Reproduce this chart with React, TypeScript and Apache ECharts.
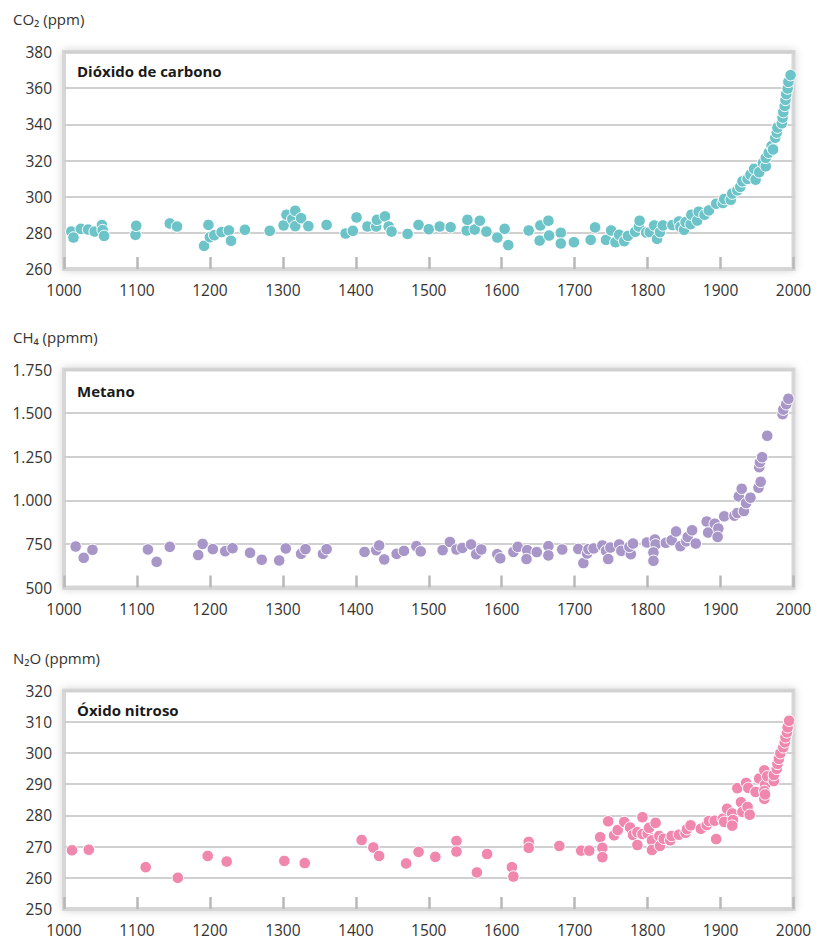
import React, { useEffect, useRef } from "react";
import * as echarts from "echarts";

// ---- Data ----
const co2Years = [
  1010, 1013, 1023, 1033, 1042, 1052, 1053, 1055, 1098, 1099, 1145, 1155, 1192, 1198, 1200, 1206,
  1216, 1226, 1229, 1248, 1282, 1301, 1305, 1313, 1317, 1317, 1325, 1335, 1360, 1386, 1396, 1401,
  1416, 1428, 1429, 1440, 1445, 1449, 1471, 1486, 1500, 1515, 1530, 1552, 1553, 1563, 1570, 1579,
  1594, 1604, 1609, 1637, 1652, 1653, 1664, 1665, 1681, 1681, 1699, 1722, 1728, 1743, 1750, 1756,
  1761, 1768, 1773, 1783, 1788, 1789, 1798, 1803, 1809, 1813, 1817, 1821, 1834, 1843, 1845, 1850,
  1852, 1859, 1860, 1868, 1870, 1878, 1884, 1894, 1903, 1905, 1914, 1916, 1923, 1927, 1930, 1937,
  1941, 1946, 1948, 1953, 1958, 1962, 1962, 1966, 1970, 1972, 1975, 1977, 1978, 1984, 1985, 1986,
  1988, 1989, 1990, 1992, 1993, 1996,
];
const co2Ppm = [
  280.7, 277.4, 282.2, 281.8, 280.7, 284.3, 281.5, 278.3, 278.9, 283.9, 285.2, 283.5, 272.8, 284.4, 277.6, 278.7,
  280.4, 281.3, 275.6, 281.7, 281.1, 284.1, 290, 287.6, 292.2, 283.7, 288.1, 283.7, 284.4, 279.6, 281.1, 288.5,
  283.5, 283.5, 287.2, 289.1, 283.5, 280.7, 279.4, 284.4, 282, 283.5, 283.1, 281.3, 287.2, 281.8, 286.7, 280.7,
  277.4, 282.2, 273.2, 281.3, 275.7, 284.1, 286.7, 278.5, 280, 274.1, 274.8, 276.1, 283, 276.1, 281.3, 274.8,
  278.9, 275.4, 278.3, 280.6, 283.5, 286.7, 280.2, 280.4, 284.1, 276.7, 280.4, 284.1, 284.3, 286.3, 283.3, 281.7,
  285.9, 284.8, 290, 286.8, 291.7, 290, 292.4, 296.1, 296.5, 298.7, 298.3, 301.7, 303.5, 305.4, 308.5, 309.8,
  312.2, 315.4, 309.4, 313.5, 318.7, 316.8, 321.5, 324.3, 328, 326.1, 332.6, 335.4, 338.2, 340.6, 343.7, 346.8,
  350.2, 353.5, 356.7, 359.8, 363.5, 367.2,
];

const ch4Years = [
  1016, 1027, 1039, 1115, 1127, 1145, 1184, 1190, 1204, 1221, 1231, 1255, 1271, 1295, 1304, 1325,
  1331, 1355, 1360, 1412, 1428, 1432, 1439, 1456, 1466, 1483, 1489, 1519, 1529, 1538, 1546, 1558,
  1565, 1572, 1594, 1598, 1616, 1622, 1635, 1634, 1648, 1664, 1664, 1683, 1705, 1712, 1717, 1719,
  1726, 1738, 1743, 1746, 1749, 1761, 1764, 1777, 1775, 1780, 1799, 1810, 1811, 1808, 1808, 1825,
  1833, 1839, 1845, 1853, 1855, 1861, 1866, 1881, 1883, 1892, 1897, 1896, 1905, 1919, 1923, 1925,
  1929, 1932, 1935, 1941, 1952, 1955, 1953, 1954, 1957, 1964, 1985, 1986, 1990, 1993,
];
const ch4Ppmm = [
  735, 670, 716, 718, 647, 733, 686, 750, 720, 708, 725, 699, 659, 655, 724, 693,
  720, 693, 720, 704, 714, 741, 661, 693, 710, 737, 707, 714, 761, 718, 727, 747,
  691, 718, 691, 667, 704, 733, 714, 663, 703, 737, 684, 718, 721, 640, 695, 720,
  724, 741, 710, 663, 729, 747, 710, 691, 733, 752, 758, 775, 747, 701, 653, 756,
  771, 821, 737, 765, 790, 828, 752, 878, 815, 866, 838, 790, 908, 912, 927, 1022,
  1066, 938, 984, 1015, 1072, 1106, 1190, 1218, 1247, 1370, 1494, 1520, 1551, 1582,
];

const n2oYears = [
  1011, 1034, 1112, 1156, 1197, 1223, 1302, 1330, 1408, 1424, 1432, 1469, 1486, 1509, 1538, 1538,
  1566, 1580, 1614, 1616, 1637, 1637, 1679, 1709, 1720, 1735, 1738, 1738, 1746, 1754, 1759, 1768,
  1776, 1780, 1786, 1786, 1793, 1793, 1800, 1802, 1806, 1806, 1811, 1816, 1817, 1822, 1831, 1833,
  1843, 1852, 1854, 1859, 1873, 1881, 1884, 1892, 1894, 1903, 1905, 1909, 1916, 1917, 1916, 1923,
  1928, 1930, 1935, 1937, 1938, 1940, 1948, 1953, 1960, 1961, 1960, 1960, 1961, 1964, 1973, 1973,
  1977, 1978, 1980, 1982, 1986, 1988, 1989, 1991, 1992, 1994,
];
const n2oPpmm = [
  268.8, 269, 263.4, 260, 267, 265.2, 265.4, 264.7, 272.1, 269.7, 267, 264.6, 268.3, 266.7, 271.8, 268.4,
  261.7, 267.6, 263.4, 260.4, 271.5, 269.6, 270.2, 268.7, 268.7, 273, 269.6, 266.6, 278.1, 273.6, 275.3, 277.9,
  276.1, 273.7, 274.6, 270.5, 279.4, 274, 274.2, 276, 272, 268.9, 277.6, 273.4, 270.2, 272.5, 272, 273.4,
  273.8, 274.4, 275.6, 276.8, 275.7, 276.9, 278.2, 278.3, 272.4, 278.9, 277.9, 282.1, 280.6, 278.5, 276.7, 288.7,
  284.2, 281.1, 290.4, 282.7, 288.8, 280.2, 287.5, 291.8, 294.4, 289.8, 287.8, 285.3, 286.7, 292.5, 291, 292.9,
  294.9, 296.5, 298.1, 299.9, 301.8, 303.4, 305, 306.6, 308.2, 310.3,
];

const panelTitles = ["Dióxido de carbono", "Metano", "Óxido nitroso"];
const unitLabels = ["CO₂ (ppm)", "CH₄ (ppmm)", "N₂O (ppmm)"];
const yRanges = [
  { min: 260, max: 380, interval: 20 },
  { min: 500, max: 1750, interval: 250 },
  { min: 250, max: 320, interval: 10 },
];
const xRange = { min: 1000, max: 2000, interval: 100 };
const colors = ["#6cc4c9", "#a896c9", "#f087ad"];

const FONT = "'Open Sans', 'Noto Sans', sans-serif";

function pairs(xs: number[], ys: number[]) {
  return xs.map((x, i) => [x, ys[i]]);
}

export default function App() {
  const ref = useRef<HTMLDivElement>(null);

  useEffect(() => {
    document.body.style.margin = "0";
    if (!ref.current) return;
    const chart = echarts.init(ref.current, undefined, { renderer: "svg" });

    const gridBoxes = [
      { top: 52, height: 217 },
      { top: 369.5, height: 218 },
      { top: 690.5, height: 218.5 },
    ];
    const titleY = [71, 390.5, 710];
    const unitY = [19, 336.5, 658];

    const datasets = [
      pairs(co2Years, co2Ppm),
      pairs(ch4Years, ch4Ppmm),
      pairs(n2oYears, n2oPpmm),
    ];

    const option: any = {
      animation: false,
      backgroundColor: "#ffffff",
      grid: gridBoxes.map((g) => ({
        left: 64,
        width: 729.5,
        top: g.top,
        height: g.height,
        show: true,
        backgroundColor: "#ffffff",
        borderColor: "#d6d6d6",
        borderWidth: 4,
        shadowColor: "rgba(0,0,0,0.16)",
        shadowBlur: 8,
      })),
      xAxis: [0, 1, 2].map((i) => ({
        type: "value",
        gridIndex: i,
        min: xRange.min,
        max: xRange.max,
        interval: xRange.interval,
        z: 5,
        axisLine: { show: true, lineStyle: { color: "#d6d6d6", width: 4 } },
        axisTick: { show: true, inside: true, length: 12, lineStyle: { color: "#b8b8b8", width: 2.5 } },
        splitLine: { show: false },
        axisLabel: {
          color: "#333333",
          fontSize: 15.5,
          fontFamily: FONT,
          margin: 13,
          formatter: (v: number) => String(v),
        },
      })),
      yAxis: [0, 1, 2].map((i) => ({
        type: "value",
        gridIndex: i,
        min: yRanges[i].min,
        max: yRanges[i].max,
        interval: yRanges[i].interval,
        axisLine: { show: false },
        axisTick: { show: false },
        splitLine: { show: true, lineStyle: { color: "#d0d0d0", width: 2 } },
        axisLabel: {
          color: "#333333",
          fontSize: 15.5,
          fontFamily: FONT,
          margin: 12,
          formatter: (v: number) =>
            v >= 1000 ? (v / 1000).toFixed(3) : String(v),
        },
      })),
      series: [0, 1, 2].map((i) => ({
        type: "scatter",
        xAxisIndex: i,
        yAxisIndex: i,
        z: 6,
        data: datasets[i],
        symbol: "circle",
        symbolSize: 11.5,
        itemStyle: { color: colors[i], borderColor: "#ffffff", borderWidth: 1, opacity: 1 },
        emphasis: { disabled: true },
      })),
      graphic: [
        ...panelTitles.map((t, i) => ({
          type: "text",
          x: 77,
          y: titleY[i],
          z: 100,
          style: {
            text: t,
            fill: "#1a1a1a",
            font: `bold 15px ${FONT}`,
            verticalAlign: "middle",
          },
        })),
        ...unitLabels.map((t, i) => ({
          type: "text",
          x: 13,
          y: unitY[i],
          style: {
            text: t,
            fill: "#333333",
            font: `15px ${FONT}`,
            verticalAlign: "middle",
          },
        })),
      ],
    };

    chart.setOption(option);
    return () => chart.dispose();
  }, []);

  return <div ref={ref} style={{ width: 822, height: 938 }} />;
}
